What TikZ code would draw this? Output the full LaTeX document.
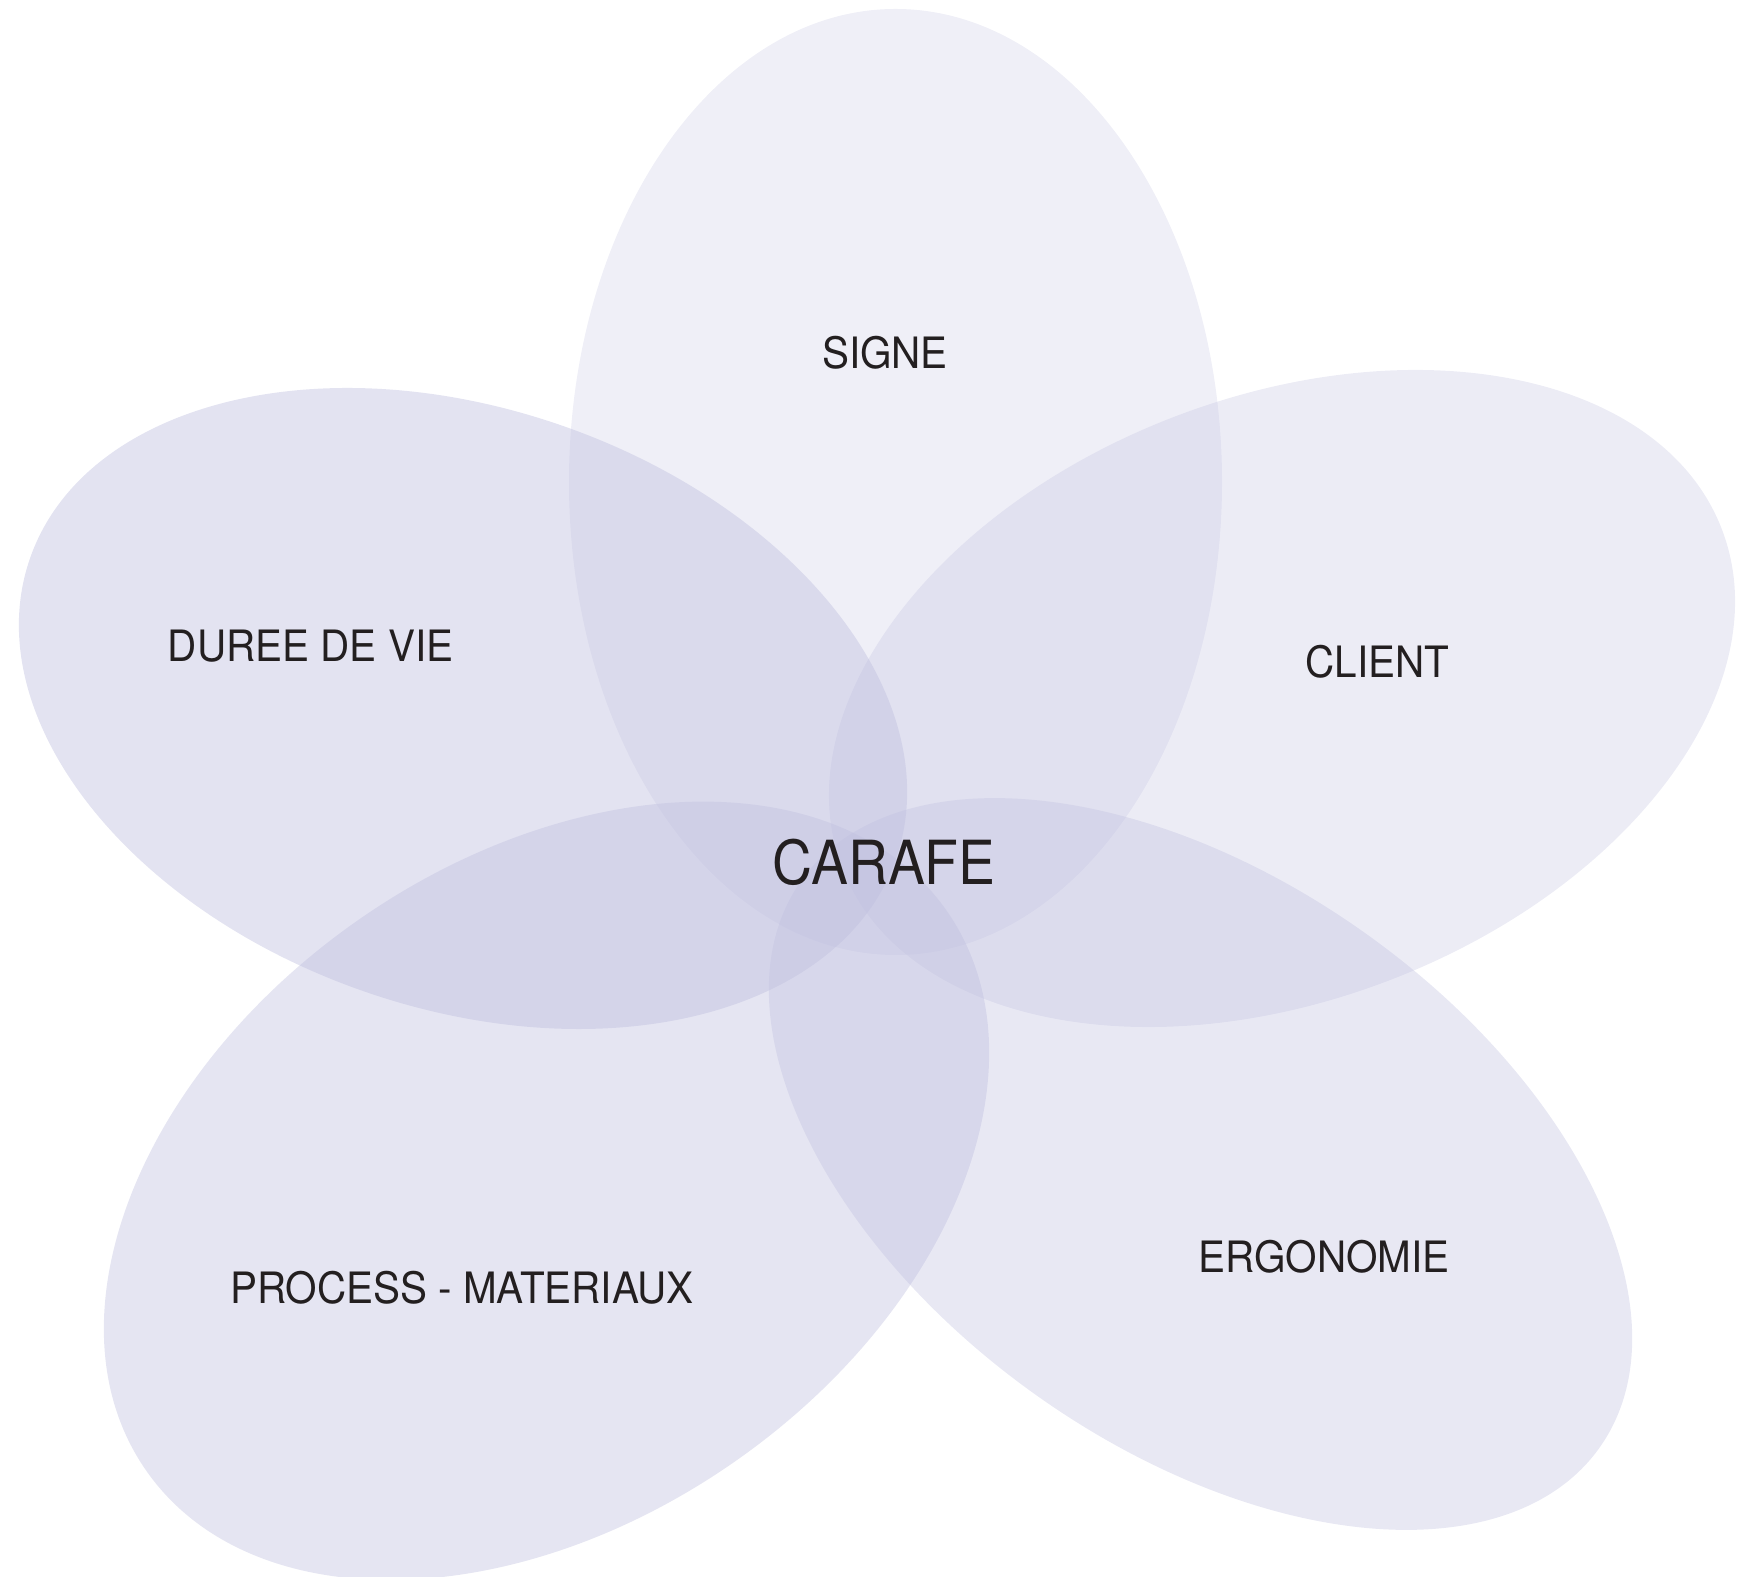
\documentclass[tikz,border=0pt]{standalone}
\usepackage{fontspec}
\setmainfont{TeX Gyre Heros}[FakeStretch=0.935]
\newfontfamily\carafefont{TeX Gyre Heros}[FakeStretch=0.91]
\definecolor{petal}{RGB}{190,190,222}
\definecolor{ink}{RGB}{35,31,32}
\tikzset{
  petalfill/.style={fill=petal, fill opacity=#1},
  lab/.style={text=ink, inner sep=0pt, font=\fontsize{12.3}{14}\selectfont},
  biglab/.style={text=ink, inner sep=0pt, font=\carafefont\fontsize{17.3}{20}\selectfont}
}
\begin{document}
\begin{tikzpicture}
\useasboundingbox (0,0) rectangle (17.5,15.76);
\clip (0,0) rectangle (17.5,15.76);
% petals
\fill[petalfill=0.25] (8.955,10.94) ellipse [x radius=3.265, y radius=4.73];
\fill[petalfill=0.29, rotate around={21.07:(12.82,8.775)}] (12.82,8.775) ellipse [x radius=4.713, y radius=3.016];
\fill[petalfill=0.35, rotate around={-35.4:(12.005,4.12)}] (12.005,4.12) ellipse [x radius=4.896, y radius=2.836];
\fill[petalfill=0.40, rotate around={35:(5.465,3.852)}] (5.465,3.852) ellipse [x radius=4.884, y radius=3.298];
\fill[petalfill=0.43, rotate around={-19.1:(4.63,8.675)}] (4.63,8.675) ellipse [x radius=4.583, y radius=2.997];
% labels
\node[lab] (signe) at (8.85,12.23) {SIGNE};
\node[lab] (duree) at (3.106,9.30) {DUREE DE VIE};
\node[lab] (client) at (13.773,9.142) {CLIENT};
\node[lab] (process) at (4.62,2.883) {PROCESS - MATERIAUX};
\node[lab] (ergo) at (13.24,3.19) {ERGONOMIE};
\node[biglab] (carafe) at (8.843,7.138) {CARAFE};
\end{tikzpicture}
\end{document}
